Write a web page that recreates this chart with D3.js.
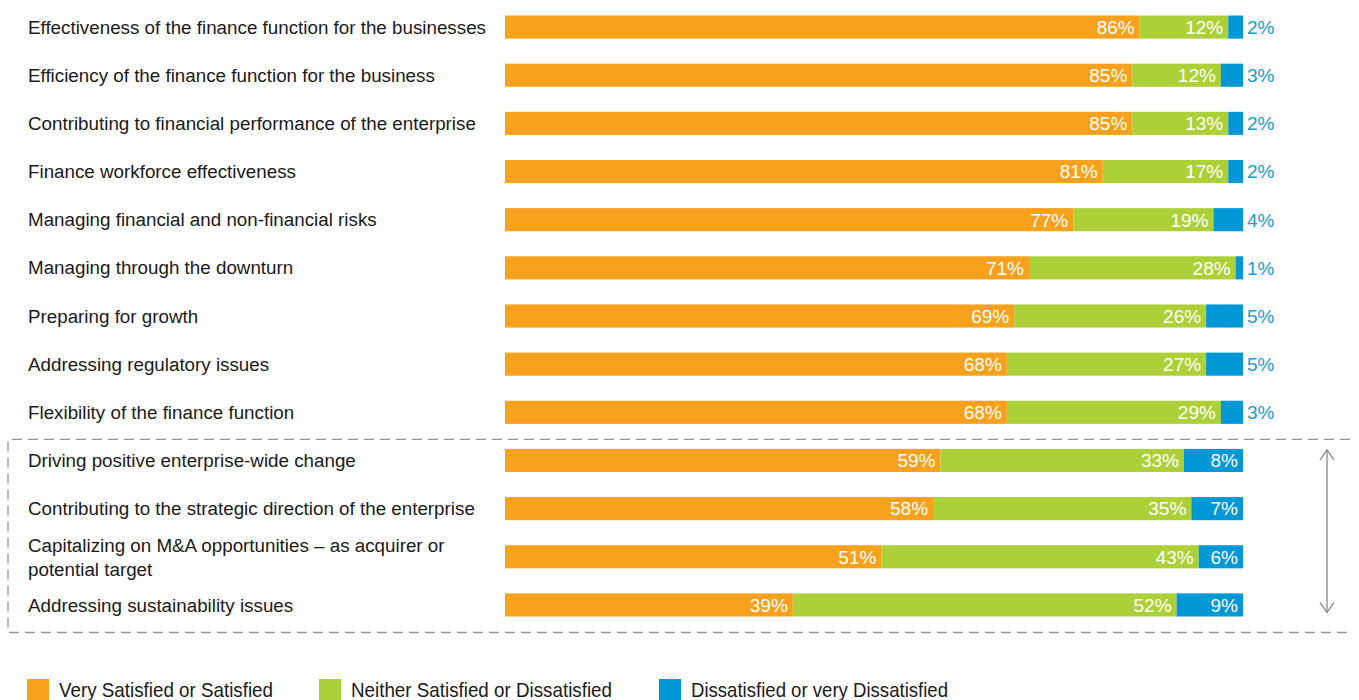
<!DOCTYPE html>
<html>
<head>
  <meta charset="utf-8">
  <script src="https://cdn.jsdelivr.net/npm/d3@7/dist/d3.min.js"></script>
  <style>
    body { margin: 0; background: #fff; }
    svg { display: block; }
  </style>
</head>
<body>
  <script>
    const categories = [
      ['Effectiveness of the finance function for the businesses'],
      ['Efficiency of the finance function for the business'],
      ['Contributing to financial performance of the enterprise'],
      ['Finance workforce effectiveness'],
      ['Managing financial and non-financial risks'],
      ['Managing through the downturn'],
      ['Preparing for growth'],
      ['Addressing regulatory issues'],
      ['Flexibility of the finance function'],
      ['Driving positive enterprise-wide change'],
      ['Contributing to the strategic direction of the enterprise'],
      ['Capitalizing on M&A opportunities – as acquirer or', 'potential target'],
      ['Addressing sustainability issues']
    ]
    const satisfied = [86, 85, 85, 81, 77, 71, 69, 68, 68, 59, 58, 51, 39]
    const neither = [12, 12, 13, 17, 19, 28, 26, 27, 29, 33, 35, 43, 52]
    const dissatisfied = [2, 3, 2, 2, 4, 1, 5, 5, 3, 8, 7, 6, 9]
    const seriesNames = ['Very Satisfied or Satisfied', 'Neither Satisfied or Dissatisfied', 'Dissatisfied or very Dissatisfied']
    const colors = ['#f7a11d', '#acd037', '#0097d6']
    const boxedFrom = 9

    const width = 1359, height = 700
    const svg = d3.select('body').append('svg')
      .attr('width', width).attr('height', height)

    const x = d3.scaleLinear().domain([0, 100]).range([505, 1243])
    const y = d3.scaleBand().domain(d3.range(categories.length))
      .range([3, 629]).paddingInner(0.52).paddingOuter(0.26)

    const rows = categories.map((c, i) => {
      const vals = [satisfied[i], neither[i], dissatisfied[i]]
      let acc = 0
      return vals.map((v, k) => {
        const seg = { row: i, k, v, x0: acc, x1: acc + v }
        acc += v
        return seg
      })
    })

    // dashed box round the last rows
    const boxTop = (y(boxedFrom) + y(boxedFrom - 1) + y.bandwidth()) / 2 + 3
    const boxBottom = y(categories.length - 1) + y.bandwidth() + 16
    svg.append('path')
      .attr('d', `M1350,${boxTop}H8V${boxBottom}H1350`)
      .attr('fill', 'none').attr('stroke', '#999').attr('stroke-width', 1.3)
      .attr('stroke-dasharray', '10,6')

    // double arrow
    const ax = 1327
    const a0 = y(boxedFrom) + 1, a1 = y(categories.length - 1) + y.bandwidth() - 4
    const arrow = svg.append('g').attr('fill', 'none').attr('stroke', '#8a8a8a').attr('stroke-width', 1.3)
    arrow.append('line').attr('x1', ax).attr('x2', ax).attr('y1', a0).attr('y2', a1)
    arrow.append('path').attr('d', `M${ax - 7},${a0 + 10}L${ax},${a0}L${ax + 7},${a0 + 10}`)
    arrow.append('path').attr('d', `M${ax - 7},${a1 - 10}L${ax},${a1}L${ax + 7},${a1 - 10}`)

    // category labels
    const labelFont = '"Liberation Sans", Arial, sans-serif'
    svg.append('g').selectAll('text')
      .data(categories)
      .join('text')
      .attr('x', 28)
      .attr('y', (d, i) => y(i) + y.bandwidth() / 2)
      .attr('font-family', labelFont)
      .attr('font-size', 18.8)
      .attr('fill', '#1a1a1a')
      .each(function (d) {
        const t = d3.select(this)
        d.forEach((line, j) => {
          t.append('tspan')
            .attr('x', 28)
            .attr('dy', j === 0 ? (0.35 - (d.length - 1) * 0.62) + 'em' : '1.27em')
            .text(line)
        })
      })

    // bars
    const segs = rows.flat()
    svg.append('g').selectAll('rect')
      .data(segs)
      .join('rect')
      .attr('x', d => x(d.x0))
      .attr('width', d => x(d.x1) - x(d.x0))
      .attr('y', d => y(d.row))
      .attr('height', y.bandwidth())
      .attr('fill', d => colors[d.k])

    // value labels
    const inside = d => d.k < 2 || d.v >= 6
    svg.append('g').selectAll('text')
      .data(segs)
      .join('text')
      .attr('x', d => inside(d) ? x(d.x1) - 5 : x(d.x1) + 4)
      .attr('y', d => y(d.row) + y.bandwidth() / 2)
      .attr('dy', '0.36em')
      .attr('text-anchor', d => inside(d) ? 'end' : 'start')
      .attr('font-family', labelFont)
      .attr('font-size', 19)
      .attr('fill', d => inside(d) ? '#fff' : '#1b9bd7')
      .text(d => d.v + '%')

    // legend
    const legX = [27, 319, 659]
    const legTextW = [214, 261, 257]
    const leg = svg.append('g').selectAll('g')
      .data(seriesNames)
      .join('g')
      .attr('transform', (d, i) => `translate(${legX[i]},679)`)
    leg.append('rect').attr('width', 22).attr('height', 22).attr('fill', (d, i) => colors[i])
    leg.append('text')
      .attr('x', 32).attr('y', 18)
      .attr('font-family', labelFont)
      .attr('font-size', 21)
      .attr('textLength', (d, i) => legTextW[i])
      .attr('lengthAdjust', 'spacingAndGlyphs')
      .attr('fill', '#1a1a1a')
      .text(d => d)
  </script>
</body>
</html>
